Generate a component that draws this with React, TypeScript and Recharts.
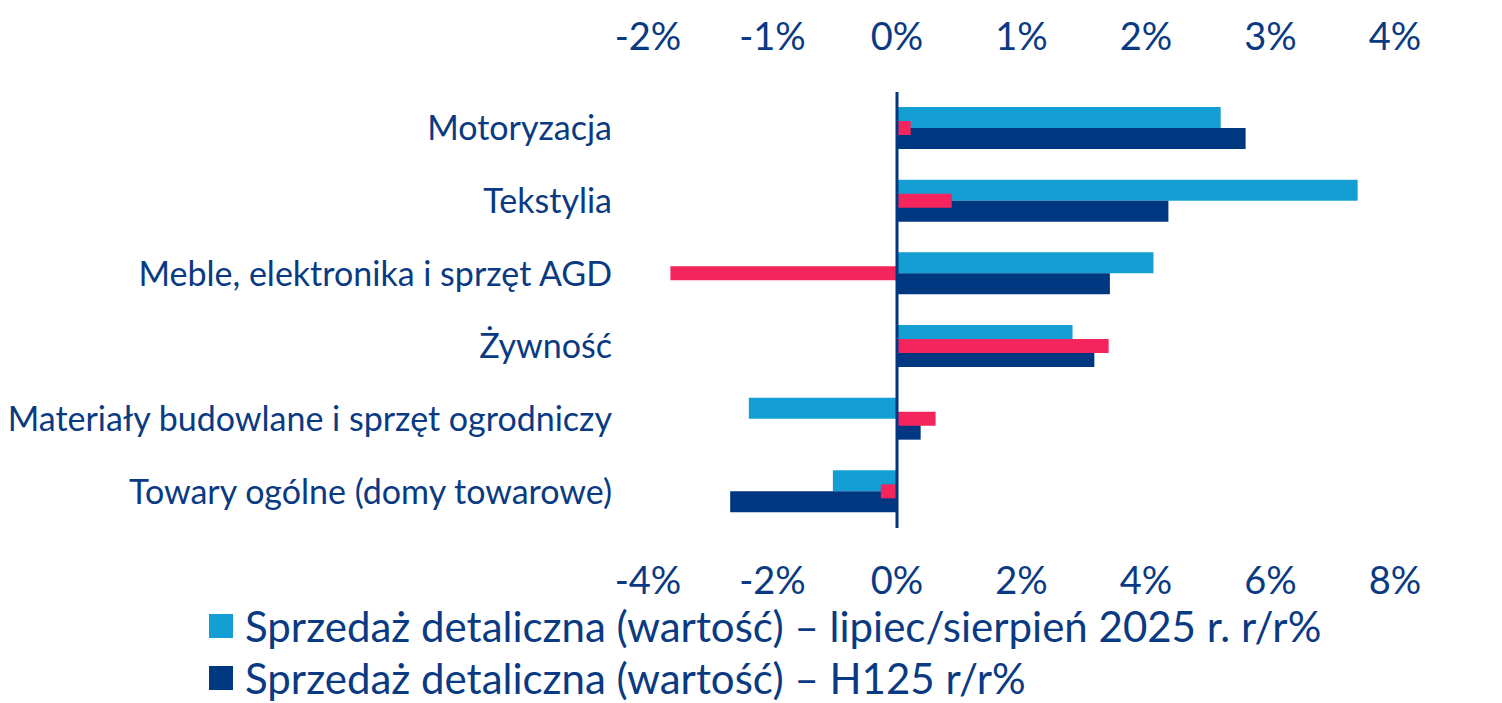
import { BarChart, Bar, XAxis, YAxis, Legend, ReferenceLine } from 'recharts'

// Kategorie sprzedaży detalicznej (od góry do dołu)
const categories = [
  'Motoryzacja',
  'Tekstylia',
  'Meble, elektronika i sprzęt AGD',
  'Żywność',
  'Materiały budowlane i sprzęt ogrodniczy',
  'Towary ogólne (domy towarowe)',
]

// Oś dolna (-4%..8%)
const lipiecSierpien = [5.2, 7.4, 4.12, 2.82, -2.38, -1.03]
const h125 = [5.6, 4.36, 3.42, 3.17, 0.38, -2.68]

// Oś górna (-2%..4%), seria bez wpisu w legendzie
const drugaOs = [0.11, 0.44, -1.82, 1.7, 0.31, -0.13]

const bottomTicks = [-4, -2, 0, 2, 4, 6, 8]
const topTicks = [-2, -1, 0, 1, 2, 3, 4]

const seriesNames = [
  'Sprzedaż detaliczna (wartość) – lipiec/sierpień 2025 r. r/r%',
  'Sprzedaż detaliczna (wartość) – H125 r/r%',
]

const data = categories.map((name, i) => ({
  name,
  lipSierp: lipiecSierpien[i],
  h1: h125[i],
  prawa: drugaOs[i],
}))

const TEXT = '#0a3a82'
const LIGHT = '#139fd3'
const DARK = '#003781'
const RED = '#f4245c'
const FONT = 'Lato, "Open Sans", sans-serif'

const pct = (v: number) => `${v}%`

function LegendContent({ payload }: any) {
  // keep the series order, legend sorts by name otherwise
  const items = (payload ?? [])
    .filter((p: any) => p.type !== 'none' && seriesNames.includes(p.value))
    .sort((a: any, b: any) => seriesNames.indexOf(a.value) - seriesNames.indexOf(b.value))
  return (
    <div style={{ fontFamily: FONT, color: TEXT }}>
      {items.map((p: any) => (
        <div
          key={p.value}
          style={{ display: 'flex', alignItems: 'center', height: 52 }}
        >
          <span
            style={{
              display: 'inline-block',
              width: 24,
              height: 24,
              background: p.color,
              marginRight: 12,
            }}
          />
          <span style={{ fontSize: 42, lineHeight: '52px', whiteSpace: 'nowrap' }}>
            {p.value}
          </span>
        </div>
      ))}
    </div>
  )
}

export default function App() {
  return (
    <div
      style={{
        position: 'absolute',
        left: 0,
        top: 0,
        width: 1502,
        height: 703,
        overflow: 'hidden',
        background: '#fff',
      }}
    >
      <BarChart
        width={1502}
        height={703}
        data={data}
        layout="vertical"
        barGap={0}
        margin={{ top: 0, right: 107, left: 0, bottom: 0 }}
      >
        <XAxis
          xAxisId="top"
          type="number"
          orientation="top"
          domain={[-2, 4]}
          ticks={topTicks}
          tickFormatter={pct}
          height={92}
          axisLine={false}
          tickLine={false}
          tickMargin={36}
          tick={{ fontSize: 38, fill: TEXT, fontFamily: FONT }}
        />
        <XAxis
          xAxisId="bottom"
          type="number"
          orientation="bottom"
          domain={[-4, 8]}
          ticks={bottomTicks}
          tickFormatter={pct}
          height={175}
          axisLine={false}
          tickLine={false}
          tickMargin={33}
          tick={{ fontSize: 38, fill: TEXT, fontFamily: FONT }}
        />
        <YAxis
          yAxisId="cat"
          type="category"
          dataKey="name"
          width={648}
          axisLine={false}
          tickLine={false}
          tickMargin={30}
          tick={{ fontSize: 34, fill: TEXT, fontFamily: FONT }}
        />
        <YAxis yAxisId="cat2" type="category" dataKey="name" hide />
        <Legend
          layout="horizontal"
          verticalAlign="middle"
          align="center"
          wrapperStyle={{ left: 209, top: 600, width: 1280 }}
          content={<LegendContent />}
        />
        <Bar
          xAxisId="bottom"
          yAxisId="cat"
          dataKey="lipSierp"
          name={seriesNames[0]}
          fill={LIGHT}
          barSize={21}
          isAnimationActive={false}
        />
        <Bar
          xAxisId="bottom"
          yAxisId="cat"
          dataKey="h1"
          name={seriesNames[1]}
          fill={DARK}
          barSize={21}
          isAnimationActive={false}
        />
        <Bar
          xAxisId="top"
          yAxisId="cat2"
          dataKey="prawa"
          name="Seria na osi górnej"
          legendType="none"
          fill={RED}
          barSize={14}
          isAnimationActive={false}
        />
        <ReferenceLine
          x={0}
          xAxisId="bottom"
          yAxisId="cat"
          stroke={DARK}
          strokeWidth={3}
        />
      </BarChart>
    </div>
  )
}
